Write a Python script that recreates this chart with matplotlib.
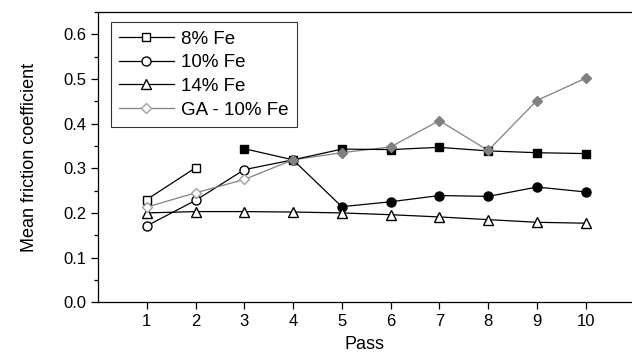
import numpy as np
import matplotlib
matplotlib.use("Agg")
import matplotlib.pyplot as plt
from matplotlib.ticker import MultipleLocator

plt.rcParams['font.family'] = ['Liberation Sans', 'DejaVu Sans']

# Data
passes = np.arange(1, 11)
fe8 = [0.230, 0.301, 0.344, 0.319, 0.343, 0.342, 0.347, 0.339, 0.335, 0.333]
fe10 = [0.171, 0.228, 0.297, 0.319, 0.214, 0.225, 0.239, 0.237, 0.258, 0.247]
fe14 = [0.200, 0.203, 0.203, 0.202, 0.200, 0.196, 0.191, 0.185, 0.179, 0.177]
ga10 = [0.213, 0.245, 0.275, 0.319, 0.335, 0.348, 0.407, 0.340, 0.452, 0.502]

fig = plt.figure(figsize=(6.32, 3.58), dpi=100)
ax = fig.add_axes([0.155, 0.156, 0.845, 0.81])

ms = 6
# 8% Fe: open for passes 1-2, then separate filled run from pass 3
ax.plot(passes[:2], fe8[:2], color='black', lw=0.9, marker='s', ms=ms,
        mfc='white', mec='black', zorder=3)
ax.plot(passes[2:], fe8[2:], color='black', lw=0.9, marker='s', ms=ms,
        mfc='black', mec='black', zorder=3)

# 10% Fe: continuous line, open 1-3, filled 4-10
ax.plot(passes, fe10, color='black', lw=0.9, zorder=2)
ax.plot(passes[:3], fe10[:3], ls='none', marker='o', ms=6.5, mfc='white',
        mec='black', zorder=3)
ax.plot(passes[3:], fe10[3:], ls='none', marker='o', ms=6.5, mfc='black',
        mec='black', zorder=3)

# 14% Fe
ax.plot(passes, fe14, color='black', lw=0.9, marker='^', ms=6.5,
        mfc='white', mec='black', zorder=3)

# GA - 10% Fe
ax.plot(passes, ga10, color='#808080', lw=0.9, zorder=2)
ax.plot(passes[:3], ga10[:3], ls='none', marker='D', ms=5, mfc='white',
        mec='#a0a0a0', zorder=3)
ax.plot(passes[3:], ga10[3:], ls='none', marker='D', ms=5, mfc='#808080',
        mec='#808080', zorder=3)

# legend handles
h8, = ax.plot([], [], color='black', lw=0.9, marker='s', ms=ms, mfc='white', mec='black')
h10, = ax.plot([], [], color='black', lw=0.9, marker='o', ms=6.5, mfc='white', mec='black')
h14, = ax.plot([], [], color='black', lw=0.9, marker='^', ms=6.5, mfc='white', mec='black')
hga, = ax.plot([], [], color='#808080', lw=0.9, marker='D', ms=5, mfc='white', mec='#a0a0a0')
leg = ax.legend([h8, h10, h14, hga], ['8% Fe', '10% Fe', '14% Fe', 'GA - 10% Fe'],
                loc='upper left', bbox_to_anchor=(0.024, 0.966), fontsize=13.5,
                frameon=True, fancybox=False, edgecolor='black',
                handlelength=2.9, handletextpad=0.4, labelspacing=0.35,
                borderpad=0.45, borderaxespad=0)
leg.get_frame().set_linewidth(0.8)

ax.set_xlim(0, 10.95)
ax.set_ylim(0, 0.65)
ax.set_xticks(passes)
ax.yaxis.set_minor_locator(MultipleLocator(0.05))
ax.set_yticks(np.arange(0, 0.61, 0.1))
ax.set_yticklabels([f'{v:.1f}' for v in np.arange(0, 0.61, 0.1)])
ax.tick_params(axis='both', which='major', direction='out', length=5,
               width=0.9, labelsize=12)
ax.tick_params(axis='y', which='minor', direction='out', length=3, width=0.9)
ax.spines['right'].set_visible(False)
for s in ['left', 'bottom', 'top']:
    ax.spines[s].set_linewidth(0.9)

ax.set_xlabel('Pass', fontsize=13, labelpad=5)
ax.set_ylabel('Mean friction coefficient', fontsize=13, labelpad=18)

fig.savefig('out.png', dpi=100)
